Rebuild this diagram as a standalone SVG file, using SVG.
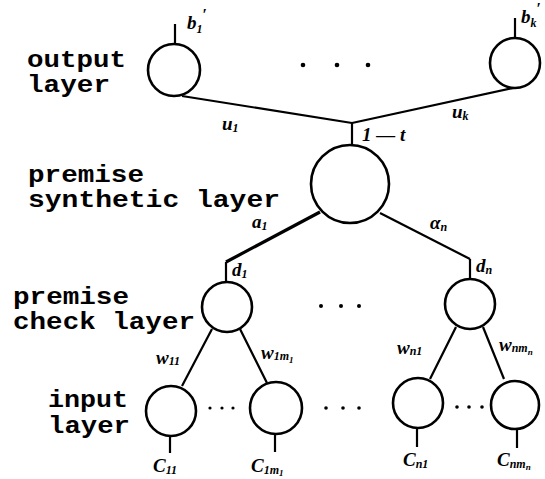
<svg xmlns="http://www.w3.org/2000/svg" width="545" height="479" viewBox="0 0 545 479">
<style>
.n{fill:none;stroke:#000;stroke-width:2.6}
.c{stroke:#000;stroke-width:2.2;fill:none}
.t{font-family:"Liberation Mono","DejaVu Sans Mono",monospace;font-weight:bold;font-size:23px;fill:#000}
.m{font-family:"Liberation Serif","DejaVu Serif",serif;font-style:italic;font-weight:bold;font-size:19px;fill:#000}
.s{font-size:12px}
.p{font-size:16px;font-style:normal}
.d{fill:#000}
</style>
<rect width="545" height="479" fill="#fff"/>
<g id="layer-labels">
<text class="t" x="27" y="67" textLength="99" lengthAdjust="spacingAndGlyphs">output</text>
<text class="t" x="27" y="92" textLength="83" lengthAdjust="spacingAndGlyphs">layer</text>
<text class="t" x="28" y="182" textLength="116" lengthAdjust="spacingAndGlyphs">premise</text>
<text class="t" x="28" y="207" textLength="252" lengthAdjust="spacingAndGlyphs">synthetic layer</text>
<text class="t" x="13" y="304" textLength="116" lengthAdjust="spacingAndGlyphs">premise</text>
<text class="t" x="13" y="329" textLength="182" lengthAdjust="spacingAndGlyphs">check layer</text>
<text class="t" x="48" y="407" textLength="80" lengthAdjust="spacingAndGlyphs">input</text>
<text class="t" x="48" y="433" textLength="82" lengthAdjust="spacingAndGlyphs">layer</text>
</g>
<g id="connectors">
<line class="c" x1="175" y1="44" x2="175" y2="24"/>
<line class="c" x1="515" y1="38" x2="515" y2="18"/>
<line class="c" x1="182" y1="96" x2="352" y2="123"/>
<line class="c" x1="352" y1="123" x2="513" y2="88"/>
<line class="c" x1="352" y1="123" x2="352" y2="145"/>
<line class="c" x1="320" y1="212" x2="226" y2="262" style="stroke-width:3.2"/>
<line class="c" x1="226" y1="262" x2="226" y2="282"/>
<line class="c" x1="380" y1="213" x2="470" y2="259"/>
<line class="c" x1="470" y1="259" x2="470" y2="279"/>
<line class="c" x1="212" y1="329" x2="182" y2="386"/>
<line class="c" x1="240" y1="329" x2="267" y2="383"/>
<line class="c" x1="456" y1="327" x2="430" y2="379"/>
<line class="c" x1="483" y1="327" x2="504" y2="379"/>
<line class="c" x1="170" y1="437" x2="170" y2="453"/>
<line class="c" x1="275" y1="434" x2="275" y2="452"/>
<line class="c" x1="417" y1="428" x2="417" y2="447"/>
<line class="c" x1="517" y1="430" x2="517" y2="448"/>
</g>
<g id="out1"><circle class="n" cx="174" cy="70" r="26"/></g>
<g id="outk"><circle class="n" cx="515" cy="63" r="25"/></g>
<g id="synth"><circle class="n" cx="350" cy="184" r="39"/></g>
<g id="check1"><circle class="n" cx="227" cy="307" r="25"/></g>
<g id="checkn"><circle class="n" cx="470" cy="304" r="25"/></g>
<g id="in11"><circle class="n" cx="171" cy="411" r="25"/></g>
<g id="in1m"><circle class="n" cx="276" cy="408" r="26"/></g>
<g id="inn1"><circle class="n" cx="418" cy="403" r="25"/></g>
<g id="innm"><circle class="n" cx="515" cy="405" r="24"/></g>
<g id="dots">
<circle class="d" cx="303" cy="65" r="2.3"/><circle class="d" cx="337" cy="65" r="2.3"/><circle class="d" cx="368" cy="65" r="2.3"/>
<circle class="d" cx="321" cy="306" r="2"/><circle class="d" cx="341" cy="306" r="2"/><circle class="d" cx="359" cy="306" r="2"/>
<circle class="d" cx="210" cy="408" r="1.6"/><circle class="d" cx="222" cy="408" r="1.6"/><circle class="d" cx="233" cy="408" r="1.6"/>
<circle class="d" cx="326" cy="408" r="1.8"/><circle class="d" cx="343" cy="408" r="1.8"/><circle class="d" cx="359" cy="408" r="1.8"/>
<circle class="d" cx="457" cy="407" r="1.8"/><circle class="d" cx="469" cy="407" r="1.8"/><circle class="d" cx="482" cy="407" r="1.8"/>
</g>
<g id="labels">
<text class="m" x="187" y="29">b<tspan class="s" dy="4">1</tspan><tspan class="p" dy="-13">′</tspan></text>
<text class="m" x="521" y="23">b<tspan class="s" dy="4">k</tspan><tspan class="p" dy="-13">′</tspan></text>
<text class="m" x="222" y="130">u<tspan class="s" dy="2">1</tspan></text>
<text class="m" x="452" y="118">u<tspan class="s" dy="2">k</tspan></text>
<text class="m" x="362" y="141">1 — t</text>
<text class="m" x="252" y="228">a<tspan class="s" dy="2">1</tspan></text>
<text class="m" x="430" y="229">α<tspan class="s" dy="2">n</tspan></text>
<text class="m" x="232" y="276">d<tspan class="s" dy="2">1</tspan></text>
<text class="m" x="476" y="272">d<tspan class="s" dy="2">n</tspan></text>
<text class="m" x="156" y="364">w<tspan class="s" dy="1">11</tspan></text>
<text class="m" x="261" y="359">w<tspan class="s" dy="1">1m</tspan><tspan class="s" dy="3" style="font-size:9px">1</tspan></text>
<text class="m" x="397" y="354">w<tspan class="s" dy="1">n1</tspan></text>
<text class="m" x="499" y="351">w<tspan class="s" dy="1">nm</tspan><tspan class="s" dy="3" style="font-size:9px">n</tspan></text>
<text class="m" x="153" y="472">C<tspan class="s" dy="2">11</tspan></text>
<text class="m" x="251" y="472">C<tspan class="s" dy="2">1m</tspan><tspan class="s" dy="2" style="font-size:9px">1</tspan></text>
<text class="m" x="403" y="466">C<tspan class="s" dy="2">n1</tspan></text>
<text class="m" x="497" y="466">C<tspan class="s" dy="2">nm</tspan><tspan class="s" dy="2" style="font-size:9px">n</tspan></text>
</g>
</svg>
